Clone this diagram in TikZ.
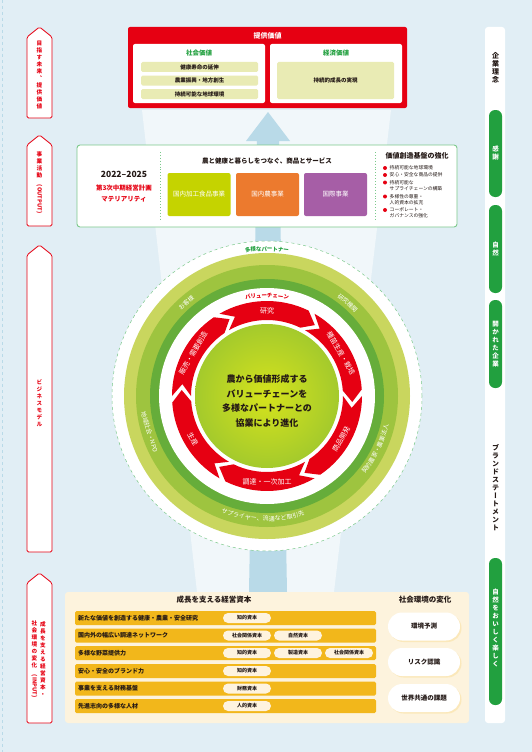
\documentclass[tikz,border=0pt]{standalone}
\usepackage{fontspec}
\usepackage{graphicx}
\setmainfont{Noto Sans CJK JP}
\newfontfamily\tatefont{Noto Sans CJK JP}[RawFeature=+vert]
\usetikzlibrary{decorations.text,shadows}

\definecolor{bgblue}{HTML}{E1EEF5}
\definecolor{beam}{HTML}{F1F7FA}
\definecolor{arrowblue}{HTML}{B9DAE8}
\definecolor{kred}{HTML}{E60012}
\definecolor{kgreen}{HTML}{22A03F}
\definecolor{lineg}{HTML}{7CC98B}
\definecolor{pale}{HTML}{E9EBB4}
\definecolor{lime}{HTML}{C5D300}
\definecolor{korange}{HTML}{EC7A2E}
\definecolor{kpurple}{HTML}{A65EA6}
\definecolor{ringA}{HTML}{C9D65E}
\definecolor{ringB}{HTML}{9EC43F}
\definecolor{ringC}{HTML}{66AD3A}
\definecolor{coreA}{HTML}{D6E31C}
\definecolor{coreB}{HTML}{A4CA2C}
\definecolor{cream}{HTML}{FDF3DD}
\definecolor{gold}{HTML}{F2B71B}
\definecolor{pill}{HTML}{FEF3DF}
\definecolor{ink}{HTML}{231815}

% stacked characters for vertical labels
\makeatletter
\newcommand{\tate}[1]{\vbox{\@tfor\tatechar:=#1\do{\hbox to 1em{\hss\tatechar\hss}}}}
\makeatother
\newcommand{\ringfont}{\fontsize{6}{6}\selectfont}

\begin{document}
\begin{tikzpicture}[x=1pt, y=1pt, every node/.style={inner sep=0pt},
    sidearrow/.style={fill=white, draw=kred, line width=0.8pt, rounded corners=1.5pt},
    tatered/.style={text=kred, font=\tatefont\bfseries\fontsize{5.6}{7}\selectfont},
    tatewhite/.style={text=white, font=\tatefont\bfseries\fontsize{6.5}{8}\selectfont},
    tatedark/.style={text=ink, font=\tatefont\bfseries\fontsize{7}{8}\selectfont},
    paleitem/.style={fill=pale, rounded corners=1.5pt, minimum width=117pt, minimum height=10pt, text=ink, font=\bfseries\fontsize{5.5}{6}\selectfont},
    bizbox/.style={rounded corners=2pt, minimum width=63pt, minimum height=43pt, text=white, font=\fontsize{6.5}{7}\selectfont},
    bullet/.style={circle, fill=kred, minimum size=4pt},
    smalltext/.style={anchor=west, text=ink, font=\fontsize{4.8}{5}\selectfont},
    goldbar/.style={fill=gold, rounded corners=1.5pt, minimum width=301pt, minimum height=14pt},
    rowtext/.style={anchor=west, text=ink, font=\bfseries\fontsize{6}{6}\selectfont},
    capital/.style={fill=pill, rounded corners=5pt, minimum width=48pt, minimum height=10pt, text=ink, font=\bfseries\fontsize{5}{5}\selectfont},
    change/.style={fill=white, rounded corners=14pt, minimum width=72pt, minimum height=28pt, text=ink, font=\bfseries\fontsize{6.5}{7}\selectfont, drop shadow={fill=gold!40, opacity=0.6, shadow xshift=1.5pt, shadow yshift=-1.5pt}},
    segtext/.style={text=white, font=\fontsize{7}{7}\selectfont},
    ringtext/.style={text=white, font=\ringfont},
    ringlabel/.style={decorate, decoration={text along path, text align=center, raise=-2pt, text color=white, text={|\ringfont|#1}}}]

    % Background
    \fill[bgblue] (0,0) rectangle (532,-752);
    \useasboundingbox (0,0) rectangle (532,-752);
    \draw[arrowblue, dashed, line width=0.4pt] (2,0) -- (2,-752);
    \fill[beam] (142,-110) -- (391,-110) -- (334,-592) -- (197,-592) -- cycle;
    \fill[arrowblue] (268,-112) -- (290,-141) -- (279,-141) -- (287,-592) -- (249,-592) -- (257,-141) -- (246,-141) -- cycle;

    % Left arrows
    \draw[sidearrow] (27,-37) -- (39.5,-27) -- (52,-37) -- (52,-118) -- (27,-118) -- cycle;
    \draw[sidearrow] (27,-145) -- (39.5,-135) -- (52,-145) -- (52,-226) -- (27,-226) -- cycle;
    \draw[sidearrow] (27,-255) -- (39.5,-245) -- (52,-255) -- (52,-552) -- (27,-552) -- cycle;
    \draw[sidearrow] (27,-583) -- (39.5,-573) -- (52,-583) -- (52,-723) -- (27,-723) -- cycle;
    \node[tatered, anchor=north] (future) at (39.5,-41) {\tate{目指す未来、提供価値}};
    \node[tatered, anchor=north] (output) at (39.5,-152) {\tate{事業活動{\rotatebox{-90}{(OUTPUT)}}}};
    \node[tatered] (model) at (39.5,-403) {\tate{ビジネスモデル}};
    \node[tatered, anchor=north] (input1) at (43,-621) {\tate{成長を支える経営資本・}};
    \node[tatered, anchor=north] (input2) at (34.5,-621) {\tate{社会環境の変化{\rotatebox{-90}{(INPUT)}}}};

    % Right column
    \fill[white, rounded corners=3pt] (485,-27) rectangle (505,-723);
    \fill[kgreen, rounded corners=6pt] (489,-110) rectangle (502,-197);
    \fill[kgreen, rounded corners=6pt] (489,-205) rectangle (502,-293);
    \fill[kgreen, rounded corners=6pt] (489,-300) rectangle (502,-388);
    \fill[kgreen, rounded corners=6pt] (489,-558) rectangle (502,-705);
    \node[tatedark] (philosophy) at (495.5,-68) {\tate{企業理念}};
    \node[tatewhite] (thanks) at (495.5,-153.5) {\tate{感謝}};
    \node[tatewhite] (nature) at (495.5,-249) {\tate{自然}};
    \node[tatewhite] (open) at (495.5,-344) {\tate{開かれた企業}};
    \node[tatedark] (brand) at (495.5,-488) {\tate{ブランドステートメント}};
    \node[tatewhite] (tasty) at (495.5,-628) {\tate{自然をおいしく楽しく}};

    % Provided value
    \node[fill=kred, rounded corners=2pt, minimum width=279pt, minimum height=81pt] (value) at (267.5,-67.5) {};
    \node[text=white, font=\bfseries\fontsize{7}{7}\selectfont] (valuetitle) at (267.5,-36) {提供価値};
    \node[fill=white, rounded corners=2pt, minimum width=132pt, minimum height=59pt] (social) at (199,-73.5) {};
    \node[fill=white, rounded corners=2pt, minimum width=132pt, minimum height=59pt] (economic) at (336,-73.5) {};
    \node[text=kgreen, font=\bfseries\fontsize{6.5}{7}\selectfont] (socialtitle) at (199,-53) {社会価値};
    \node[text=kgreen, font=\bfseries\fontsize{6.5}{7}\selectfont] (economictitle) at (336,-53) {経済価値};
    \node[paleitem] (health) at (199.5,-67) {健康寿命の延伸};
    \node[paleitem] (agri) at (199.5,-80.5) {農業振興・地方創生};
    \node[paleitem] (earth) at (199.5,-94) {持続可能な地球環境};
    \node[paleitem, minimum height=37pt] (growth) at (335.5,-80.5) {持続的成長の実現};

    % Business activity
    \node[draw=lineg, line width=0.9pt, fill=white, rounded corners=3pt, minimum width=380pt, minimum height=82pt] (activity) at (267,-186) {};
    \draw[lineg, dotted, line width=0.9pt] (160,-152) -- (160,-221);
    \draw[lineg, dotted, line width=0.9pt] (375,-152) -- (375,-221);
    \node[text=ink, font=\bfseries\fontsize{8.5}{9}\selectfont] (period) at (124,-174) {2022–2025};
    \node[text=kred, font=\bfseries\fontsize{6.5}{7}\selectfont] (plan) at (124,-188) {第3次中期経営計画};
    \node[text=kred, font=\bfseries\fontsize{6.5}{7}\selectfont] (materiality) at (124,-199) {マテリアリティ};
    \node[text=ink, font=\bfseries\fontsize{6.5}{7}\selectfont] (services) at (267,-161) {農と健康と暮らしをつなぐ、商品とサービス};
    \node[bizbox, fill=lime] (food) at (199,-194.5) {国内加工食品事業};
    \node[bizbox, fill=korange] (farm) at (267.5,-194.5) {国内農事業};
    \node[bizbox, fill=kpurple] (intl) at (335.5,-194.5) {国際事業};
    \node[text=ink, font=\bfseries\fontsize{7}{7}\selectfont] (base) at (417,-156) {価値創造基盤の強化};
    \node[bullet] (b1) at (385,-168) {};
    \node[smalltext] (b1t) at (389.5,-168) {持続可能な地球環境};
    \node[bullet] (b2) at (385,-175) {};
    \node[smalltext] (b2t) at (389.5,-175) {安心・安全な商品の提供};
    \node[bullet] (b3) at (385,-182.5) {};
    \node[smalltext] (b3t) at (389.5,-182.5) {持続可能な};
    \node[smalltext] (b3u) at (389.5,-188.5) {サプライチェーンの構築};
    \node[bullet] (b4) at (385,-196.5) {};
    \node[smalltext] (b4t) at (389.5,-196.5) {多様性の尊重・};
    \node[smalltext] (b4u) at (389.5,-202.5) {人的資本の拡充};
    \node[bullet] (b5) at (385,-210) {};
    \node[smalltext] (b5t) at (389.5,-210) {コーポレート・};
    \node[smalltext] (b5u) at (389.5,-216) {ガバナンスの強化};

    % Business model circle
    \begin{scope}[shift={(267,-396)}]
        \fill[white] (0,0) circle[radius=155];
        \draw[lineg, dashed, line width=0.5pt] (0,0) circle[radius=155];
        \fill[ringA] (0,0) circle[radius=143];
        \fill[ringB] (0,0) circle[radius=131];
        \fill[ringC] (0,0) circle[radius=117];
        \fill[white] (0,0) circle[radius=108];
        % value chain segments
        \fill[kred] (120:95) arc[start angle=120, end angle=64, radius=95] -- (56:85.5) -- (64:76) arc[start angle=64, end angle=120, radius=76] -- (112:85.5) -- cycle;
        \fill[kred] (60:95) arc[start angle=60, end angle=4, radius=95] -- (-4:85.5) -- (4:76) arc[start angle=4, end angle=60, radius=76] -- (52:85.5) -- cycle;
        \fill[kred] (0:95) arc[start angle=0, end angle=-56, radius=95] -- (-64:85.5) -- (-56:76) arc[start angle=-56, end angle=0, radius=76] -- (-8:85.5) -- cycle;
        \fill[kred] (-60:95) arc[start angle=-60, end angle=-116, radius=95] -- (-124:85.5) -- (-116:76) arc[start angle=-116, end angle=-60, radius=76] -- (-68:85.5) -- cycle;
        \fill[kred] (-120:95) arc[start angle=-120, end angle=-176, radius=95] -- (-184:85.5) -- (-176:76) arc[start angle=-176, end angle=-120, radius=76] -- (-128:85.5) -- cycle;
        \fill[kred] (180:95) arc[start angle=180, end angle=124, radius=95] -- (116:85.5) -- (124:76) arc[start angle=124, end angle=180, radius=76] -- (172:85.5) -- cycle;
        \node[segtext] (research) at (90:85.5) {研究};
        \node[segtext, rotate=-60] (seed) at (30:85.5) {種苗生産・栽培};
        \node[segtext, rotate=60] (develop) at (-30:85.5) {商品開発};
        \node[segtext] (procure) at (-90:85.5) {調達・一次加工};
        \node[segtext, rotate=-60] (produce) at (-150:85.5) {生産};
        \node[segtext, rotate=60] (sales) at (150:85.5) {販売・需要創造};
        % ring labels
        \path[decorate, decoration={text along path, text align=center, raise=-2pt, text color=kgreen, text={|\bfseries\fontsize{5.5}{5.5}\selectfont|多様なパートナー}}] (125:147) arc[start angle=125, end angle=55, radius=147];
        \path[decorate, decoration={text along path, text align=center, raise=-2pt, text color=kred, text={|\bfseries\fontsize{5.5}{5.5}\selectfont|バリューチェーン}}] (125:100.5) arc[start angle=125, end angle=55, radius=100.5];
        \path[ringlabel={お客様}] (151:123) arc[start angle=151, end angle=111, radius=123];
        \path[ringlabel={研究機関}] (69:123) arc[start angle=69, end angle=29, radius=123];
        \node[ringtext, rotate=-73] (community) at (197:123) {地域社会・NPO};
        \path[ringlabel={契約農家・農業法人}] (-52:123) arc[start angle=-52, end angle=0, radius=123];
        \path[ringlabel={サプライヤー、流通など取引先}] (-135:123) arc[start angle=-135, end angle=-49, radius=123];
        % core
        \shade[inner color=coreA, outer color=coreB] (0,0) circle[radius=72];
        \node[align=center, text=ink, font=\bfseries\fontsize{9}{14.5}\selectfont] (core) at (0,-5) {農から価値形成する\\バリューチェーンを\\多様なパートナーとの\\協業により進化};
    \end{scope}

    % Management capital
    \node[fill=cream, rounded corners=3pt, minimum width=404pt, minimum height=131pt] (capitalbox) at (267,-657.5) {};
    \node[text=ink, font=\bfseries\fontsize{7.5}{8}\selectfont] (capitaltitle) at (214,-600) {成長を支える経営資本};
    \node[text=ink, font=\bfseries\fontsize{7.5}{8}\selectfont] (changetitle) at (425,-600) {社会環境の変化};
    \node[goldbar] (r1) at (225.5,-618) {};
    \node[goldbar] (r2) at (225.5,-635.5) {};
    \node[goldbar] (r3) at (225.5,-653) {};
    \node[goldbar] (r4) at (225.5,-671) {};
    \node[goldbar] (r5) at (225.5,-688.5) {};
    \node[goldbar] (r6) at (225.5,-706) {};
    \node[rowtext] (r1t) at (78,-618) {新たな価値を創造する健康・農業・安全研究};
    \node[rowtext] (r2t) at (78,-635.5) {国内外の幅広い調達ネットワーク};
    \node[rowtext] (r3t) at (78,-653) {多様な野菜提供力};
    \node[rowtext] (r4t) at (78,-671) {安心・安全のブランド力};
    \node[rowtext] (r5t) at (78,-688.5) {事業を支える財務基盤};
    \node[rowtext] (r6t) at (78,-706) {先進志向の多様な人材};
    \node[capital] (r1a) at (247,-618) {知的資本};
    \node[capital] (r2a) at (247,-635.5) {社会関係資本};
    \node[capital] (r2b) at (298,-635.5) {自然資本};
    \node[capital] (r3a) at (247,-653) {知的資本};
    \node[capital] (r3b) at (298,-653) {製造資本};
    \node[capital] (r3c) at (349,-653) {社会関係資本};
    \node[capital] (r4a) at (247,-671) {知的資本};
    \node[capital] (r5a) at (247,-688.5) {財務資本};
    \node[capital] (r6a) at (247,-706) {人的資本};
    \node[change] (forecast) at (424,-626.5) {環境予測};
    \node[change] (risk) at (424,-662) {リスク認識};
    \node[change] (global) at (424,-698) {世界共通の課題};
\end{tikzpicture}
\end{document}
